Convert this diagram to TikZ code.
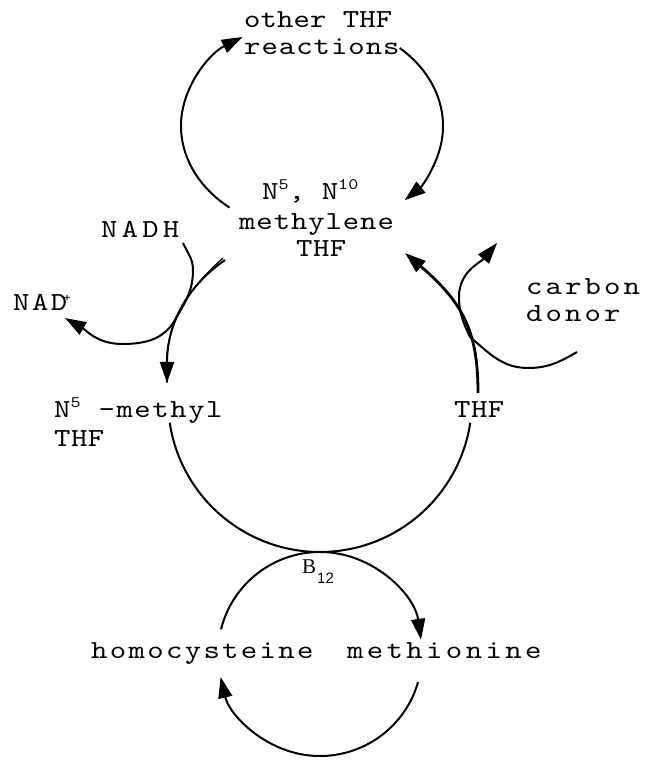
\documentclass[tikz,border=0pt]{standalone}
\usepackage{fontspec}
\usetikzlibrary{arrows.meta,calc}
\newfontfamily\monolab[FakeStretch=1.2]{lmmono10-regular.otf}
\newfontfamily\sanslab{Liberation Sans}
\newfontfamily\seriflab{Liberation Serif}
\newcommand\labfont[1]{\monolab\fontsize{26}{30}\selectfont\addfontfeature{LetterSpace=#1}}
\newcommand\supnum[1]{\raisebox{10pt}{\monolab\fontsize{16}{16}\selectfont #1}}
\begin{document}
\begin{tikzpicture}[x=1pt,y=1pt,
  lab/.style={font=\labfont{#1}, inner sep=0pt, anchor=base west},
  conn/.style={line width=2pt},
  tip/.style={-{Triangle[length=21pt,width=14pt]}},
]
\useasboundingbox (0,0) rectangle (645,764);

% labels
\node[lab=0.3] (other1) at (244,736) {other THF};
\node[lab=3.8] (other2) at (244,709) {reactions};
\node[lab=1.5] (meth1) at (262,564) {N\supnum{5}, N\supnum{10}};
\node[lab=3.5] (meth2) at (239,534) {methylene};
\node[lab=2] (meth3) at (296,507) {THF};
\node[lab=16] (nadh) at (101,526) {NADH};
\node[lab=9.5] (nad) at (13,453) {NAD\kern-4pt\raisebox{9pt}{\fontsize{12}{12}\selectfont +}};
\node[lab=6] (methyl1) at (54,346) {N\supnum{5} -methyl};
\node[lab=2] (methyl2) at (54,317) {THF};
\node[lab=2] (thf) at (454,346) {THF};
\node[lab=12] (carbon1) at (526,469) {carbon};
\node[lab=12] (carbon2) at (526,442) {donor};
\node[inner sep=0pt, anchor=base west] (b12) at (302,190) {\seriflab\fontsize{21}{21}\selectfont B\kern1pt\raisebox{-10pt}{\sanslab\fontsize{15}{15}\selectfont 12}};
\node[lab=9] (homo) at (91,105) {homocysteine};
\node[lab=13] (meth) at (347,105) {methionine};

% centres of the loops
\coordinate (topc) at (312,638);
\coordinate (mainc) at (320,364);
\coordinate (botc) at (320,110);

% top loop (other THF reactions)
\draw[conn,tip] ($(topc)+(231:131 and 105)$) arc[start angle=231,end angle=122,x radius=131,y radius=105];
\draw[conn,tip] ($(topc)+(48:131 and 105)$) arc[start angle=48,end angle=-45,x radius=131,y radius=105];

% main loop
\coordinate (ml1) at (225,504);
\coordinate (ml2) at (167,381);
\draw[conn,tip] (ml1) to[out=215,in=90] (ml2);
\draw[line width=1.3pt] (223,506) to[out=222,in=95] (ml2);
\draw[conn] ($(mainc)+(188.6:152)$) arc[start angle=188.6,end angle=351.4,radius=152];
\coordinate (mr1) at (478,371);
\coordinate (mr2) at (405,511);
\draw[line width=2.8pt,tip] (mr1) .. controls (478,430) and (465,460) .. (mr2);

% NADH -> NAD+
\coordinate (n1) at (183,521);
\coordinate (n2) at (65,446);
\draw[conn,tip] (n1) to[out=-65,in=90] (193,494) to[out=-90,in=60] (175,444) to[out=240,in=0] (122,420) to[out=180,in=-30] (n2);

% carbon donor
\coordinate (c1) at (577,412);
\coordinate (c2) at (497,521);
\draw[conn,tip] (c1) to[out=210,in=0] (528,396) to[out=180,in=-40] (470,427) to[out=115,in=-90] (459,467) to[out=90,in=-130] (c2);

% bottom loop
\draw[conn,tip] ($(botc)+(166:102)$) arc[start angle=166,end angle=8,radius=102];
\draw[conn,tip] ($(botc)+(-16:102)$) arc[start angle=-16,end angle=-167,radius=102];
\end{tikzpicture}
\end{document}
